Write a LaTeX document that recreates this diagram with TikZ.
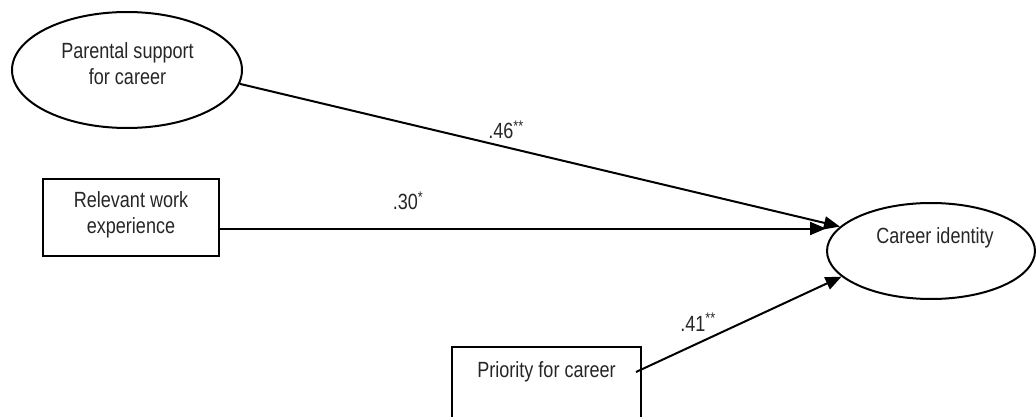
\documentclass[tikz,border=0pt]{standalone}
\usepackage{fontspec}
\setmainfont{Liberation Sans}[FakeStretch=0.82]
\usetikzlibrary{arrows.meta,shapes.geometric}
\begin{document}
\begin{tikzpicture}[x=1pt,y=-1pt,
  every node/.style={font=\fontsize{22}{26}\selectfont, text=black!85},
  ell/.style={draw=black, ellipse, line width=2pt, inner sep=0pt},
  boxnode/.style={draw=black, rectangle, line width=2pt, inner sep=0pt},
  txt/.style={align=center, inner sep=0pt},
  lbl/.style={inner sep=0pt},
  arr/.style={line width=2pt, -{Triangle[length=16pt,width=13pt]}},
  ln/.style={line width=2pt}]
\useasboundingbox (0,0) rectangle (1036,417);
% nodes
\node[ell, minimum width=230pt, minimum height=116pt] (par) at (127,70) {};
\node[txt] (partext) at (127.5,64) {Parental support\\for career};
\node[boxnode, minimum width=176pt, minimum height=77pt] (rel) at (131,217.5) {};
\node[txt] (reltext) at (131,215) {Relevant work\\experience};
\node[boxnode, minimum width=189pt, minimum height=90pt] (pri) at (546.5,392) {};
\node[txt] (pritext) at (546.5,372) {Priority for career};
\node[ell, minimum width=208pt, minimum height=96pt] (car) at (931,251) {};
\node[txt] (cartext) at (935,238) {Career identity};
% connectors
\draw[arr] (par.-7) -- (car.165);
\draw[arr] ([yshift=-11pt]rel.east) -- ([yshift=-11pt]rel.east -| car.west);
\draw[arr] ([xshift=-6pt]pri.east |- pritext) -- (car.196);
% labels
\node[lbl] (l46) at (506,130) {.46\textsuperscript{**}};
\node[lbl] (l30) at (408,201) {.30\textsuperscript{*}};
\node[lbl] (l41) at (698,322) {.41\textsuperscript{**}};
\end{tikzpicture}
\end{document}
